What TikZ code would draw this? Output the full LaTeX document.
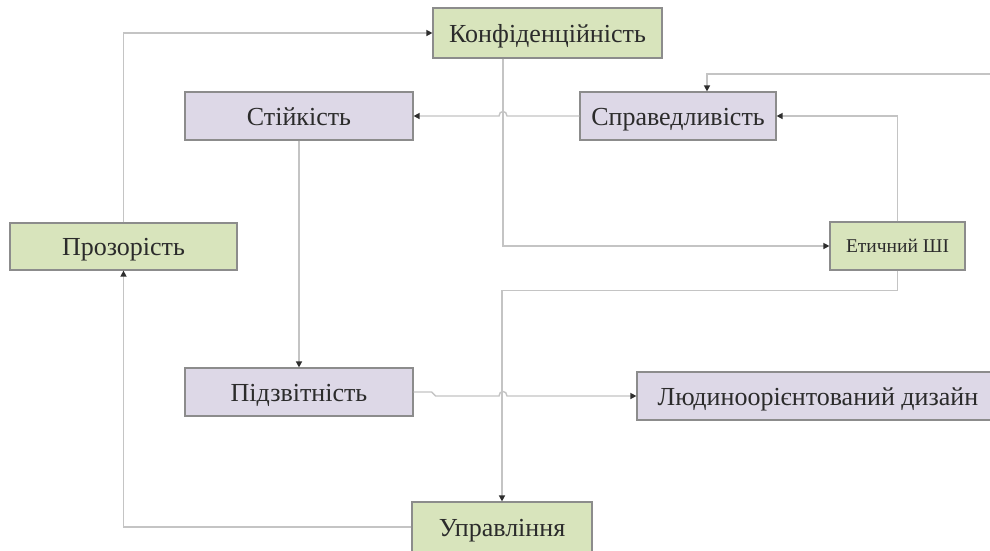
\documentclass[tikz,border=0pt]{standalone}
\usepackage{fontspec}
\setmainfont{Liberation Serif}
\usetikzlibrary{arrows.meta}
\definecolor{boxgreen}{HTML}{D8E4BC}
\definecolor{boxviolet}{HTML}{DDD8E7}
\definecolor{boxedge}{HTML}{8C8C8C}
\definecolor{linkgray}{HTML}{C4C4C4}
\definecolor{tipgray}{HTML}{2E2E2E}
\definecolor{textgray}{HTML}{2B2B2B}
\tikzset{
  card/.style={draw=boxedge, line width=1.2pt, rectangle, inner sep=0pt,
    text=textgray, font=\fontsize{26}{30}\selectfont,
    text height=19pt, text depth=1pt},
  greencard/.style={card, fill=boxgreen},
  violetcard/.style={card, fill=boxviolet},
  link/.style={draw=linkgray, line width=1.4pt,
    -{Triangle[length=6pt,width=6pt,fill=tipgray,color=tipgray]}}
}
\begin{document}
\begin{tikzpicture}[x=1pt,y=-1pt]
  \clip (0,0) rectangle (990,550);
  \fill[white] (0,0) rectangle (990,550);

  % boxes
  \node[greencard, minimum width=229, minimum height=50] (konf) at (547.5,33) {Конфіденційність};
  \node[violetcard, minimum width=228, minimum height=48] (stiy) at (299,116) {Стійкість};
  \node[violetcard, minimum width=196, minimum height=48] (sprav) at (678,116) {Справедливість};
  \node[greencard, minimum width=227, minimum height=47] (proz) at (123.5,246.5) {Прозорість};
  \node[greencard, minimum width=135, minimum height=48, font=\fontsize{19.5}{22}\selectfont,
        text height=14pt, text depth=1pt] (etych) at (897.5,246) {Етичний ШІ};
  \node[violetcard, minimum width=228, minimum height=48] (pidz) at (299,392) {Підзвітність};
  \node[violetcard, minimum width=362, minimum height=48] (lyud) at (818,396) {Людиноорієнтований дизайн};
  \node[greencard, minimum width=180, minimum height=50] (uprav) at (502,527) {Управління};

  % helper coordinates
  \coordinate (xtrunk) at (503,0);
  \coordinate (xfair) at (707,0);
  \coordinate (incoming) at (995,74);
  \coordinate (hopA) at (503,116);
  \coordinate (hopB) at (503,396);

  % connectors
  \draw[link] (proz.north) |- (konf.west);
  \draw[link] (konf.south -| xtrunk) |- (etych.west);
  \draw[link] (sprav.west) -- ([xshift=4]hopA)
     .. controls ([xshift=4,yshift=6]hopA) and ([xshift=-4,yshift=6]hopA) .. ([xshift=-4]hopA)
     -- (stiy.east);
  \draw[link] (etych.north) |- (sprav.east);
  \draw[link] (incoming) -| (sprav.north -| xfair);
  \draw[link] (etych.south) -- ++(0,20) -| (uprav.north);
  \draw[link] (stiy.south) -- (pidz.north);
  \draw[link] (pidz.east) -- ++(18,0) -- ++(4,4) -- ([xshift=-4]hopB)
     .. controls ([xshift=-4,yshift=6]hopB) and ([xshift=4,yshift=6]hopB) .. ([xshift=4]hopB)
     -- (lyud.west);
  \draw[link] (uprav.west) -| (proz.south);
\end{tikzpicture}
\end{document}
